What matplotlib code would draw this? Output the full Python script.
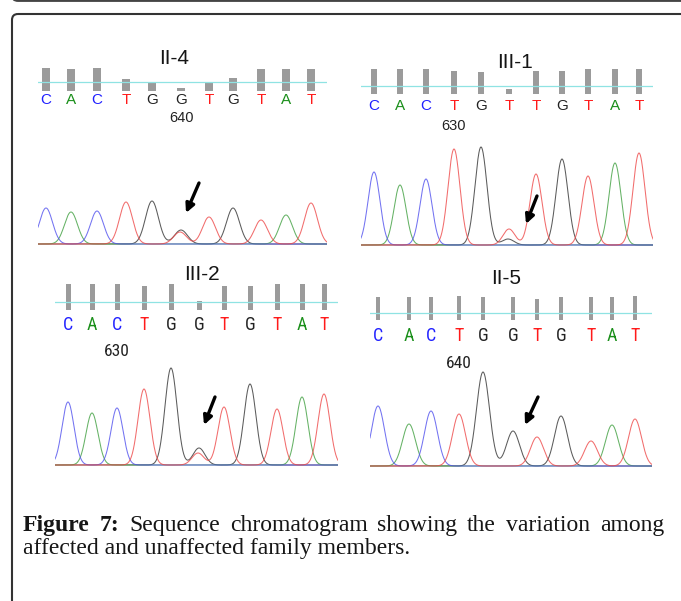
"""
plot.py
-------
Sequence chromatograms (II-4, III-1, III-2, II-5) around the variant site,
redrawn with matplotlib. Saves out.png.
"""

import numpy as np
import matplotlib
matplotlib.use("Agg")
import matplotlib.pyplot as plt
from matplotlib import font_manager
from matplotlib.patches import FancyBboxPatch

W, H = 681, 601
DPI = 100

# ── Data: base calls, peak scan positions, quality bars, peak heights ──
ii4_calls = "CACTGGTGTAT"
ii4_scan  = [8, 33, 59, 88, 114, 143, 171, 195, 223, 248, 273]
ii4_qual  = [23, 22, 23, 12, 8, 3, 8, 13, 22, 22, 22]
ii4_peak  = [36, 32, 33, 42, 43, 14, 27, 36, 24, 29, 41]
ii4_minor = {5: ("T", 12)}
ii4_label = (5, "640")

iii1_calls = "CACTGTTGTAT"
iii1_scan  = [13, 39, 65, 93, 120, 148, 175, 201, 227, 254, 278]
iii1_qual  = [25, 25, 25, 23, 22, 5, 23, 23, 25, 25, 25]
iii1_peak  = [73, 60, 66, 96, 98, 16, 71, 86, 69, 82, 92]
iii1_minor = {5: ("G", 6)}
iii1_label = (3, "630")

iii2_calls = "CACTGGTGTAT"
iii2_scan  = [13, 37, 62, 89, 116, 144, 169, 195, 222, 247, 269]
iii2_qual  = [26, 26, 26, 24, 26, 9, 24, 24, 26, 26, 26]
iii2_peak  = [63, 52, 57, 76, 97, 17, 58, 81, 56, 68, 71]
iii2_minor = {5: ("T", 12)}
iii2_label = (2, "630")

ii5_calls = "CACTGGTGTAT"
ii5_scan  = [8, 39, 61, 89, 113, 143, 167, 191, 221, 242, 265]
ii5_qual  = [23, 23, 23, 24, 23, 23, 21, 23, 23, 23, 24]
ii5_peak  = [60, 42, 55, 52, 94, 35, 29, 50, 25, 41, 47]
ii5_minor = {}
ii5_label = (3, "640")

CAPTION_BOLD = ["Figure", "7:"]
CAPTION_LINE1 = ["Sequence", "chromatogram", "showing", "the", "variation", "among"]
CAPTION_LINE2 = "affected and unaffected family members."

# ── Styles ──
TRACE_COLORS  = {"A": "#3f9f3f", "C": "#5050ee", "G": "#333333", "T": "#ee4848"}
LETTER_COLORS = {"A": "#1a8f1a", "C": "#2020ff", "G": "#222222", "T": "#ff1a1a"}
SANS = "Liberation Sans"

_names = {f.name for f in font_manager.fontManager.ttflist}
NARROW = next((n for n in ["Roboto Condensed", "Liberation Sans Narrow", "Roboto"]
               if n in _names), SANS)

# panel layout in pixel coordinates of the 681x601 canvas
PANELS = [
    dict(title="II-4", calls=ii4_calls, scan=ii4_scan, qual=ii4_qual, peak=ii4_peak,
         minor=ii4_minor, label=ii4_label,
         x0=38, x1=327, title_xy=(174, 58), bar_bottom=91, cutoff=9,
         letter_dy=9, label_dy=27, base_y=244, sigma=6.5, bar_w=8,
         font=SANS, letter_size=11, label_size=10.5,
         arrow_head=(148, 31), arrow_tail=(161, 61)),
    dict(title="III-1", calls=iii1_calls, scan=iii1_scan, qual=iii1_qual, peak=iii1_peak,
         minor=iii1_minor, label=iii1_label,
         x0=361, x1=653, title_xy=(515, 62), bar_bottom=94, cutoff=8,
         letter_dy=12, label_dy=32, base_y=245, sigma=6.0, bar_w=6,
         font=SANS, letter_size=11, label_size=10.5,
         arrow_head=(165, 21), arrow_tail=(176, 49)),
    dict(title="III-2", calls=iii2_calls, scan=iii2_scan, qual=iii2_qual, peak=iii2_peak,
         minor=iii2_minor, label=iii2_label,
         x0=55, x1=338, title_xy=(202, 275), bar_bottom=310, cutoff=8,
         letter_dy=15, label_dy=41, base_y=465, sigma=6.0, bar_w=5,
         font=NARROW, letter_size=13, label_size=12.5,
         arrow_head=(149, 40), arrow_tail=(160, 68)),
    dict(title="II-5", calls=ii5_calls, scan=ii5_scan, qual=ii5_qual, peak=ii5_peak,
         minor=ii5_minor, label=ii5_label,
         x0=370, x1=652, title_xy=(506, 279), bar_bottom=320, cutoff=7,
         letter_dy=16, label_dy=43, base_y=466, sigma=6.5, bar_w=4,
         font=NARROW, letter_size=13, label_size=12.5,
         arrow_head=(155, 41), arrow_tail=(168, 69)),
]


def px_axes(fig, left, top, right, bottom):
    """Add an axes whose box is given in canvas pixels (origin top-left)."""
    ax = fig.add_axes([left / W, 1 - bottom / H, (right - left) / W, (bottom - top) / H])
    ax.set_axis_off()
    return ax


def channel_traces(p, x):
    """Sum of peaks per dye channel for one panel."""
    traces = {b: np.zeros_like(x) for b in "ACGT"}
    for i, (base, pos, h) in enumerate(zip(p["calls"], p["scan"], p["peak"])):
        traces[base] += h * np.exp(-(x - pos) ** 2 / (2 * p["sigma"] ** 2))
        if i in p["minor"]:
            mb, mh = p["minor"][i]
            traces[mb] += mh * np.exp(-(x - pos + 1) ** 2 / (2 * p["sigma"] ** 2))
    return traces


def draw_panel(fig, canvas, p):
    span = p["x1"] - p["x0"]

    # title
    canvas.text(*p["title_xy"], p["title"], ha="center", va="center",
                fontsize=15, family=SANS, color="#151515")

    # base-call track: quality bars, cutoff line, letters, position label
    bb = p["bar_bottom"]
    ax = px_axes(fig, p["x0"], bb - 30, p["x1"], bb + 50)
    ax.set_xlim(0, span)
    ax.set_ylim(-50, 30)
    ax.bar(p["scan"], p["qual"], width=p["bar_w"], color="#9b9b9b", bottom=0, zorder=1)
    ax.axhline(p["cutoff"], color="#8fe3e3", lw=0.9, zorder=2)
    for base, pos in zip(p["calls"], p["scan"]):
        ax.text(pos, -p["letter_dy"], base, ha="center", va="center",
                fontsize=p["letter_size"], family=p["font"], color=LETTER_COLORS[base])
    idx, txt = p["label"]
    ax.text(p["scan"][idx], -p["label_dy"], txt, ha="center", va="center",
            fontsize=p["label_size"], family=p["font"], color="#222222")

    # trace
    by = p["base_y"]
    tx = px_axes(fig, p["x0"], by - 110, p["x1"], by + 2)
    tx.set_xlim(0, span)
    tx.set_ylim(-2, 110)
    x = np.linspace(0, span, 900)
    traces = channel_traces(p, x)
    for base in "GACT":
        tx.plot(x, traces[base], color=TRACE_COLORS[base], lw=0.75, alpha=0.8)

    tx.annotate("", xy=p["arrow_head"], xytext=p["arrow_tail"],
                arrowprops=dict(arrowstyle="-|>", color="black", lw=2.4,
                                mutation_scale=13, shrinkA=0, shrinkB=0))


def draw_caption(fig, canvas):
    renderer = fig.canvas.get_renderer()
    left, right = 23, 664
    y1, y2 = 531, 554
    color = "#161616"

    # fit font size so the second line spans its measured width
    probe = canvas.text(0, 0, CAPTION_LINE2, fontsize=15, family="Liberation Serif")
    wpx = probe.get_window_extent(renderer).width
    probe.remove()
    size = 15 * 389 / wpx

    canvas.text(left, y2, CAPTION_LINE2, fontsize=size, family="Liberation Serif",
                color=color, va="baseline", ha="left")

    # justified first line
    words = [(w, "bold") for w in CAPTION_BOLD] + [(w, "normal") for w in CAPTION_LINE1]
    objs = []
    for w, weight in words:
        t = canvas.text(0, y1, w, fontsize=size, family="Liberation Serif",
                        weight=weight, color=color, va="baseline", ha="left")
        objs.append(t)
    widths = [o.get_window_extent(renderer).width for o in objs]
    gap = (right - left - sum(widths)) / (len(objs) - 1)
    xpos = left
    for o, wd in zip(objs, widths):
        o.set_x(xpos)
        xpos += wd + gap


fig = plt.figure(figsize=(W / DPI, H / DPI), dpi=DPI)
canvas = fig.add_axes([0, 0, 1, 1])
canvas.set_xlim(0, W)
canvas.set_ylim(H, 0)
canvas.set_axis_off()

# frame of the figure box and bottom of the box above it
canvas.add_patch(FancyBboxPatch((12, -200), 720, 200.8,
                                boxstyle="round,pad=0,rounding_size=6",
                                fill=False, ec="#444444", lw=1.6, clip_on=False))
canvas.add_patch(FancyBboxPatch((12, 14), 720, 700,
                                boxstyle="round,pad=0,rounding_size=6",
                                fill=False, ec="#333333", lw=1.5, clip_on=False))

for panel in PANELS:
    draw_panel(fig, canvas, panel)

draw_caption(fig, canvas)

fig.savefig("out.png", dpi=DPI)
